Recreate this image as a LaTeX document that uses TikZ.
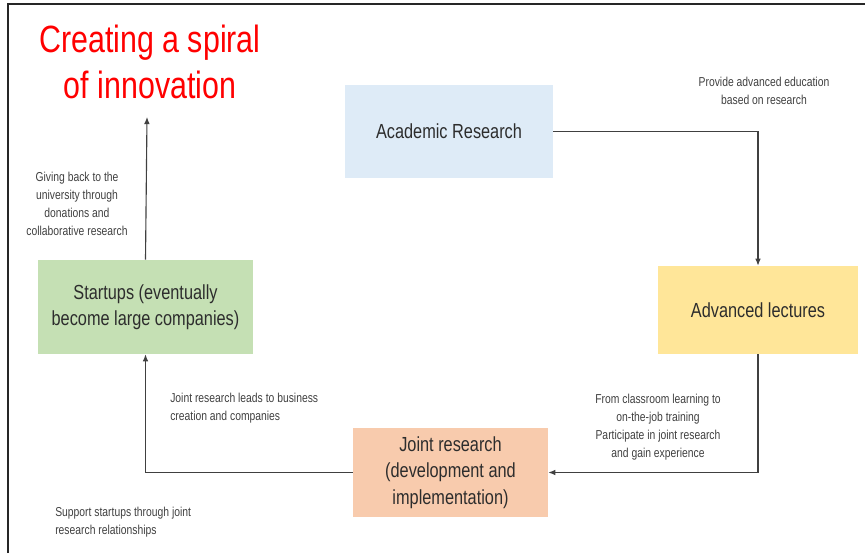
\documentclass[tikz,border=0pt]{standalone}
\usepackage{fontspec}
\setmainfont{Liberation Sans}[FakeStretch=0.8]
\usetikzlibrary{arrows.meta}
\definecolor{frameline}{HTML}{262626}
\definecolor{linkgray}{HTML}{404040}
\definecolor{textgray}{HTML}{404040}
\definecolor{researchblue}{HTML}{DEEBF7}
\definecolor{lectureyellow}{HTML}{FFE699}
\definecolor{jointorange}{HTML}{F8CBAD}
\definecolor{startupgreen}{HTML}{C5E0B4}
\begin{document}
\begin{tikzpicture}[x=0.025cm,y=-0.025cm,
  stage/.style={align=center,inner sep=0pt,text=textgray!70!black,
    font=\fontsize{14.5}{18.8}\selectfont},
  note/.style={align=center,inner sep=0pt,text=textgray,
    font=\fontsize{9.2}{12.8}\selectfont},
  link/.style={draw=linkgray,line width=0.8pt,-{Latex[length=5pt,width=4pt]}}]
\useasboundingbox (0,0) rectangle (865,553);
\draw [frameline,line width=0.9pt] (8,553) -- (8,4) -- (865,4) ;
\node [text=red,align=center,inner sep=0pt,font=\fontsize{27}{32.6}\selectfont] (title) at (150,62) {Creating a spiral\\of innovation};
\node [stage,fill=researchblue,minimum width=208*0.025cm,minimum height=93*0.025cm] (academic) at (449,131.5) {Academic Research};
\node [stage,fill=lectureyellow,minimum width=200*0.025cm,minimum height=88*0.025cm] (lectures) at (758,310) {Advanced lectures};
\node [stage,fill=jointorange,minimum width=195*0.025cm,minimum height=89*0.025cm] (joint) at (450.5,472.5) {Joint research\\(development and\\implementation)};
\node [stage,fill=startupgreen,minimum width=215*0.025cm,minimum height=94*0.025cm] (startups) at (145.5,307) {Startups (eventually\\become large companies)};
\coordinate (top) at (147,117) ;
\draw [link] (academic.east) -| (lectures.north) ;
\draw [link] (lectures.south) |- (joint.east) ;
\draw [link] (joint.west) -| (startups.south) ;
\draw [link] (startups.north) -- (top) ;
\node [note] (educate) at (764,91) {Provide advanced education\\based on research};
\node [note] (giveback) at (77,204) {Giving back to the\\university through\\donations and\\collaborative research};
\node [note] (training) at (658,427) {From classroom learning to\\on-the-job training\\Participate in joint research\\and gain experience};
\node [note,align=left,anchor=west] (business) at (170,408.5) {Joint research leads to business\\creation and companies};
\node [note,align=left,anchor=west] (support) at (55,522) {Support startups through joint\\research relationships};
\end{tikzpicture}
\end{document}
